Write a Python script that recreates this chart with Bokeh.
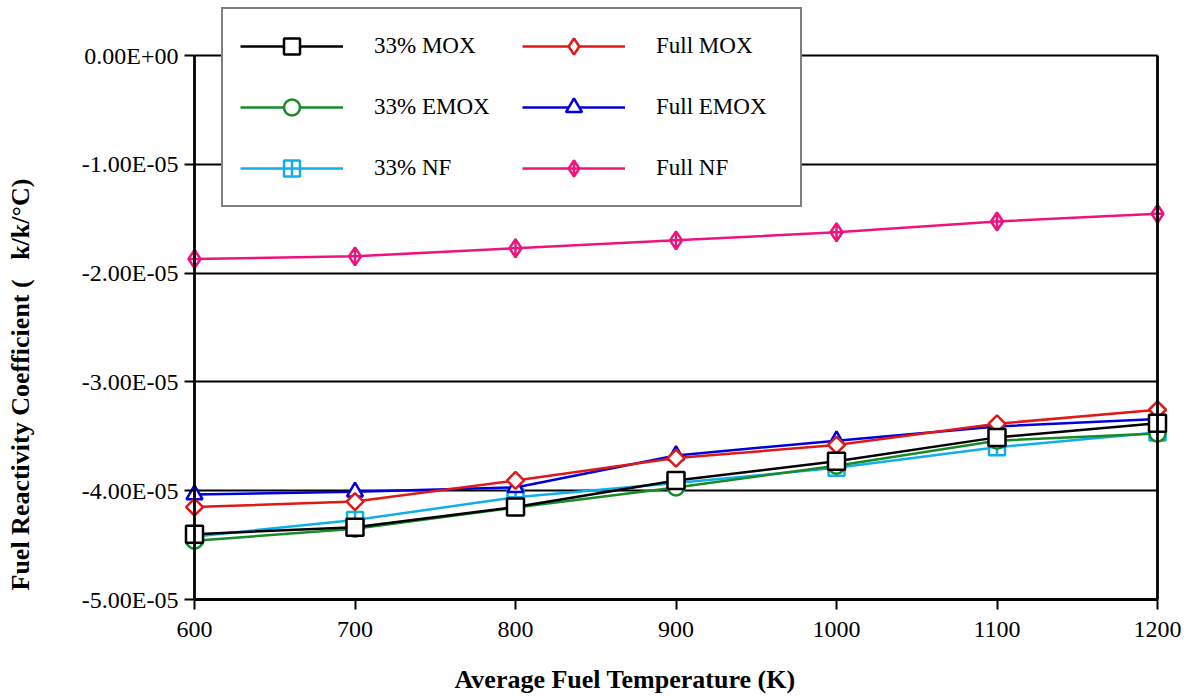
from bokeh.plotting import figure
from bokeh.models import (FixedTicker, CustomJSTickFormatter, Legend, LegendItem,
                          Title, Range1d, LinearAxis)
from bokeh.embed import file_html
from bokeh.resources import INLINE
import math

# ---- data ----
temps = [600, 700, 800, 900, 1000, 1100, 1200]
mox33 = [-4.40e-5, -4.335e-5, -4.15e-5, -3.906e-5, -3.73e-5, -3.51e-5, -3.38e-5]
emox33 = [-4.46e-5, -4.35e-5, -4.155e-5, -3.97e-5, -3.77e-5, -3.54e-5, -3.475e-5]
nf33 = [-4.42e-5, -4.27e-5, -4.06e-5, -3.93e-5, -3.79e-5, -3.60e-5, -3.465e-5]
mox_full = [-4.15e-5, -4.10e-5, -3.906e-5, -3.70e-5, -3.58e-5, -3.385e-5, -3.256e-5]
emox_full = [-4.035e-5, -4.01e-5, -3.97e-5, -3.676e-5, -3.54e-5, -3.41e-5, -3.34e-5]
nf_full = [-1.870e-5, -1.846e-5, -1.772e-5, -1.699e-5, -1.625e-5, -1.526e-5, -1.455e-5]

x_ticks = [600, 700, 800, 900, 1000, 1100, 1200]
y_ticks = [0.0, -1e-5, -2e-5, -3e-5, -4e-5, -5e-5]

labels = ["33% MOX", "33% EMOX", "33% NF", "Full MOX", "Full EMOX", "Full NF"]
x_title = "Average Fuel Temperature (K)"
y_title = "Fuel Reactivity Coefficient (\u00a0\u00a0\u00a0k/k/\u00b0C)"

SERIF = "Liberation Serif"

# ---- layout (pixels) ----
W, H = 1193, 700
AX_L, AX_R = 194, 1157          # pixel of x=600 / x=1200
AX_T, AX_B = 55, 599            # pixel of y=0 / y=-5e-5
FR_L, FR_R, FR_T, FR_B = 36, 1193, 0, 660
xmin, xmax = x_ticks[0], x_ticks[-1]
ymax, ymin = y_ticks[0], y_ticks[-1]
xs = (xmax - xmin) / (AX_R - AX_L)
ys = (ymax - ymin) / (AX_B - AX_T)
x_range = Range1d(xmin - (AX_L - FR_L) * xs, xmax + (FR_R - AX_R) * xs)
y_range = Range1d(ymin - (FR_B - AX_B) * ys, ymax + (AX_T - FR_T) * ys)

p = figure(width=W, height=H, output_backend="svg", toolbar_location=None,
           x_range=x_range, y_range=y_range,
           min_border_left=FR_L, min_border_right=W - FR_R, min_border_top=FR_T,
           min_border_bottom=H - FR_B)
p.background_fill_color = "white"
p.border_fill_color = "white"
p.outline_line_color = None

p.xgrid.visible = False
p.ygrid.grid_line_color = "black"
p.ygrid.grid_line_width = 2.2
p.ygrid.ticker = FixedTicker(ticks=y_ticks)
p.ygrid.cross_bounds = (xmin, xmax)

p.xaxis.ticker = FixedTicker(ticks=x_ticks)
p.yaxis.ticker = FixedTicker(ticks=y_ticks)
p.yaxis.formatter = CustomJSTickFormatter(code="""
const s = tick.toExponential(2).toUpperCase();
const m = s.match(/^(.*E)([+-])(\\d+)$/);
if (!m) return s;
return m[1] + m[2] + m[3].padStart(2, '0');
""")

for ax in (p.xaxis[0], p.yaxis[0]):
    ax.axis_line_color = "black"
    ax.axis_line_width = 2.8
    ax.major_tick_line_color = "black"
    ax.major_tick_line_width = 2
    ax.major_tick_in = 0
    ax.major_tick_out = 10
    ax.minor_tick_line_color = None
    ax.major_label_text_font = SERIF
    ax.major_label_text_font_size = "24px"
    ax.major_label_text_color = "black"
p.xaxis[0].fixed_location = ymin
p.xaxis[0].bounds = (xmin, xmax)
p.xaxis.major_label_standoff = 12
p.yaxis[0].fixed_location = xmin
p.yaxis[0].bounds = (ymin, ymax)
p.yaxis.major_label_standoff = 6

ra = LinearAxis(fixed_location=xmax, bounds=(ymin, ymax),
                ticker=FixedTicker(ticks=[]), axis_line_color="black",
                axis_line_width=2.8, major_tick_line_color=None,
                minor_tick_line_color=None, major_label_text_font_size="0px",
                major_label_standoff=0, major_tick_out=0)
p.add_layout(ra, "right")

LW = 2.5
series = [
    (nf_full, "#EE1480", "diamond_cross", 18, 0),
    (nf33, "#12AEEA", "square_cross", 16, 0),
    (emox33, "#168C28", "circle", 16, 0),
    (emox_full, "#0000DD", "triangle", 16, 0),
    (mox_full, "#E01818", "square", 12, math.pi / 4),
    (mox33, "black", "square", 17, 0),
]
names = ["Full NF", "33% NF", "33% EMOX", "Full EMOX", "Full MOX", "33% MOX"]
rends = {}
for (yv, col, mk, sz, ang), nm in zip(series, names):
    lr = p.line(temps, yv, line_color=col, line_width=LW)
    sr = p.scatter(temps, yv, marker=mk, size=sz, angle=ang, line_color=col,
                   line_width=LW, fill_color="white")
    rends[nm] = [lr, sr]

# legend swatch for Full MOX: legend swatches ignore the marker angle, so a
# zero-size diamond renderer supplies the legend symbol only
swatch = p.scatter(temps, mox_full, marker="diamond", size=0, line_color="#E01818",
                   line_width=LW, fill_color="white")
rends["Full MOX"] = [rends["Full MOX"][0], swatch]

items = [LegendItem(label=lab, renderers=rends[lab]) for lab in labels]
legend = Legend(items=items, location=(221 - FR_L, FR_B - 207), ncols=2,
                glyph_width=103, glyph_height=40, label_height=40,
                label_width=127, label_standoff=31, spacing=21, padding=17,
                margin=0, border_line_color="black", border_line_width=2.8,
                background_fill_color="white", background_fill_alpha=1,
                label_text_font=SERIF, label_text_font_size="23px",
                label_text_color="black")
p.add_layout(legend, "center")

yt = Title(text=y_title, align="left", offset=FR_B - 590, standoff=4,
           text_font=SERIF, text_font_size="26px", text_font_style="bold",
           text_color="black")
p.add_layout(yt, "left")
xt = Title(text=x_title, align="left", offset=418, standoff=4,
           text_font=SERIF, text_font_size="26px", text_font_style="bold",
           text_color="black")
p.add_layout(xt, "below")

open("out.html", "w").write(file_html(p, INLINE))
